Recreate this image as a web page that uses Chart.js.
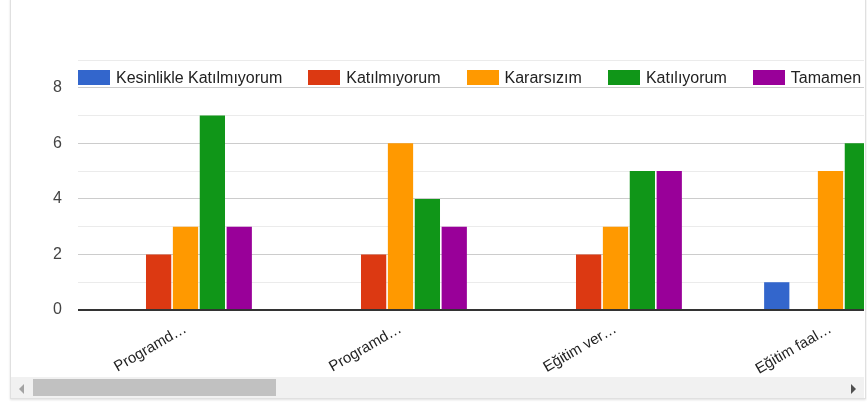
<!DOCTYPE html>
<html>
<head>
<meta charset="utf-8">
<script src="https://cdn.jsdelivr.net/npm/chart.js@4"></script>
<style>
  body { margin: 0; background: #fff; font-family: Arial, "Liberation Sans", sans-serif; }
  #card { position: absolute; left: 10px; top: -2px; width: 854px; height: 399px;
          border: 1px solid #e0e0e0; box-shadow: 0 1px 2px rgba(0,0,0,0.12); }
  #clip { position: absolute; left: 11px; top: 0; width: 853px; height: 377px; overflow: hidden; }
  #clip canvas { position: absolute; left: -11px; top: 0; }
  #legend { position: absolute; left: 67px; top: 70px; display: flex; white-space: nowrap; }
  .item { display: flex; align-items: center; margin-right: 26px; font-size: 16px; color: #222; line-height: 15px; }
  .box { width: 32px; height: 15px; margin-right: 6px; }
  #track { position: absolute; left: 11px; top: 377px; width: 853px; height: 21px; background: #f1f1f1; }
  #thumb { position: absolute; left: 33px; top: 379px; width: 243px; height: 17px; background: #c1c1c1; }
  .arrow { position: absolute; top: 384px; width: 0; height: 0; border-top: 5px solid transparent; border-bottom: 5px solid transparent; }
  #arrL { left: 19px; border-right: 5px solid #a3a3a3; }
  #arrR { left: 851px; border-left: 5px solid #505050; }
</style>
</head>
<body>
<div id="card"></div>
<div id="clip">
  <canvas id="chart" width="938" height="376"></canvas>
  <div id="legend"></div>
</div>
<div id="track"></div>
<div id="thumb"></div>
<div class="arrow" id="arrL"></div>
<div class="arrow" id="arrR"></div>
<script>
// visible part of the chart only (the rest is scrolled away)
const categories = ['Programd…', 'Programd…', 'Eğitim ver…', 'Eğitim faal…'];
const seriesNames = ['Kesinlikle Katılmıyorum', 'Katılmıyorum', 'Kararsızım', 'Katılıyorum', 'Tamamen'];
const colors = ['#3366cc', '#dc3912', '#ff9900', '#109618', '#990099'];

const kesinlikleKatilmiyorum = [0, 0, 0, 1];
const katilmiyorum = [2, 2, 2, 0];
const kararsizim = [3, 6, 3, 5];
const katiliyorum = [7, 4, 5, 6];
const tamamen = [3, 3, 5, null]; // last one is cut off in the picture

const seriesValues = [kesinlikleKatilmiyorum, katilmiyorum, kararsizim, katiliyorum, tamamen];

const datasets = seriesNames.map((name, i) => ({
    label: name,
    data: seriesValues[i],
    backgroundColor: colors[i],
    categoryPercentage: 0.625,
    barPercentage: 0.94
}));

// html legend laid over the top of the plot, like the google one
const legend = document.getElementById('legend');
seriesNames.forEach((name, i) => {
    const item = document.createElement('div');
    item.className = 'item';
    item.innerHTML = `<span class="box" style="background:${colors[i]}"></span><span>${name}</span>`;
    legend.appendChild(item);
});

const tickFont = { family: 'Arial, "Liberation Sans"', size: 16 };

new Chart(document.getElementById('chart'), {
    type: 'bar',
    data: { labels: categories, datasets: datasets },
    options: {
        responsive: false,
        animation: false,
        layout: { padding: { top: 60, left: 0, right: 0, bottom: 0 } },
        plugins: { legend: { display: false }, tooltip: { enabled: false } },
        scales: {
            x: {
                grid: { display: false },
                border: { display: false },
                ticks: {
                    autoSkip: false, maxRotation: 30, minRotation: 30, padding: 2,
                    color: '#222', font: { family: 'Arial, "Liberation Sans"', size: 15 }
                },
                afterFit: s => { s.height = 66; }
            },
            y: {
                min: 0, max: 9,
                border: { display: false },
                grid: {
                    drawTicks: false,
                    color: c => c.tick.value === 0 ? '#333' : (c.tick.value % 2 === 0 ? '#cccccc' : '#ebebeb'),
                    lineWidth: c => c.tick.value === 0 ? 2 : 1
                },
                ticks: {
                    stepSize: 1, padding: 16, color: '#444',
                    font: tickFont,
                    callback: v => v % 2 === 0 ? v : ''
                },
                afterFit: s => { s.width = 78; }
            }
        }
    }
});
</script>
</body>
</html>
